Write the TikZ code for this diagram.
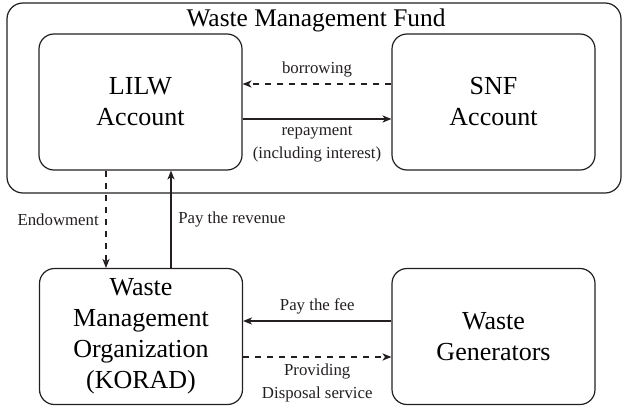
\documentclass[tikz,border=0pt]{standalone}
\usepackage{fontspec}
\setmainfont{Liberation Serif}
\usetikzlibrary{arrows.meta}
\definecolor{ink}{HTML}{231F20}

\begin{document}
\begin{tikzpicture}[x=0.5pt, y=-0.5pt,
    fund/.style={draw=ink, line width=0.6pt, rounded corners=8pt, minimum width=307pt, minimum height=95pt},
    acct/.style={draw=ink, line width=0.6pt, rounded corners=7.5pt, minimum width=101.5pt, minimum height=68pt,
                 align=center, inner sep=0pt, font=\fontsize{13}{15.5}\selectfont},
    flow/.style={draw=ink, line width=0.6pt, -{Stealth[length=4.5pt, width=3.6pt, inset=1.3pt]}},
    lbl/.style={font=\fontsize{8.4}{11.5}\selectfont, align=center, text=ink}]
  \useasboundingbox (0,0) rectangle (625,407);

  % ── the fund with its two accounts ──
  \node[fund] (wmf) at (314,98) {};
  \node[font=\fontsize{12.7}{15}\selectfont] (wmft) at (316,20) {Waste Management Fund};
  \node[acct] (lilw) at (140.5,102) {LILW\\Account};
  \node[acct] (snf)  at (493.5,102) {SNF\\Account};

  % ── organisation and generators below ──
  \node[acct] (korad) at (141,336.5) {Waste\\Management\\Organization\\(KORAD)};
  \node[acct] (gen)   at (493.5,336.5) {Waste\\Generators};

  % ── flows between the accounts ──
  \draw[flow, dashed] ([yshift=9pt]snf.west) -- node[lbl, above] {borrowing} ([yshift=9pt]lilw.east);
  \draw[flow] ([yshift=-8.5pt]lilw.east) -- node[lbl, below] {repayment\\(including interest)} ([yshift=-8.5pt]snf.west);

  % ── flows up and down ──
  \draw[flow, dashed] ([xshift=-17.25pt]lilw.south) -- node[lbl, left] {Endowment} ([xshift=-17.5pt]korad.north);
  \draw[flow] ([xshift=15pt]korad.north) -- node[lbl, right] {Pay the revenue} ([xshift=15.25pt]lilw.south);

  % ── flows between organisation and generators ──
  \draw[flow] ([yshift=7.75pt]gen.west) -- node[lbl, above] {Pay the fee} ([yshift=7.75pt]korad.east);
  \draw[flow, dashed] ([yshift=-10.25pt]korad.east) -- node[lbl, below] {Providing\\Disposal service} ([yshift=-10.25pt]gen.west);
\end{tikzpicture}
\end{document}
